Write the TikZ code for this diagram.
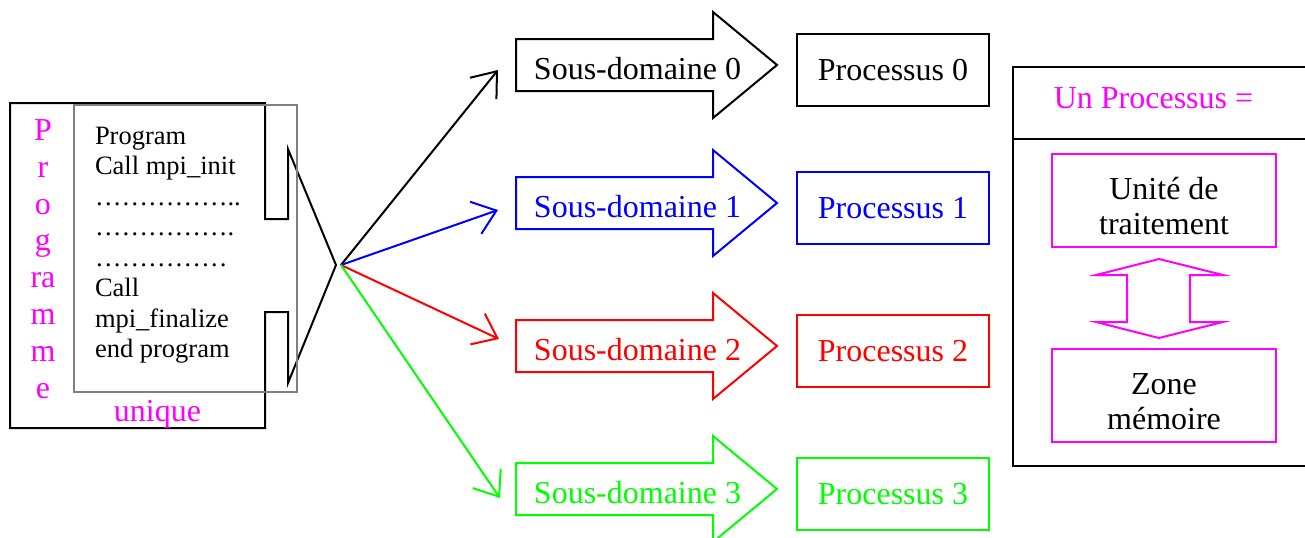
\documentclass[tikz,border=0pt]{standalone}
\usepackage{fontspec}
\setmainfont{Liberation Serif}
\usetikzlibrary{arrows.meta}
\definecolor{magn}{RGB}{255,0,255}

\begin{document}
\begin{tikzpicture}[x=0.5pt, y=-0.5pt, line width=1pt,
    every node/.style={font=\fontsize{16}{18.4}\selectfont},
    spread/.style={-{Straight Barb[length=11pt,width=17pt]}},
    procbox/.style={draw, minimum width=96pt, minimum height=36pt, inner sep=0pt},
    partbox/.style={procbox, magn, text=black, align=center, minimum width=112pt,
        minimum height=46.3pt, font=\fontsize{16}{17.5}\selectfont}]
    \useasboundingbox (0,0) rectangle (1305,537);

    % Program frame and its pointer
    \draw (10,103) -- (265,103) -- (265,219) -- (288,219) -- (288,149) -- (336,265)
        -- (288,383) -- (288,312) -- (265,312) -- (265,428) -- (10,428) -- cycle;
    \draw[gray] (74,105) rectangle (297,392);

    % Program labels
    \node[magn, align=center] (prog) at (43,259) {P\\r\\o\\g\\ra\\m\\m\\e};
    \node[magn] (uniq) at (157.5,414) {unique};
    \node[anchor=base west, align=left, inner sep=0pt, font=\fontsize{13.25}{15.26}\selectfont]
        (code) at (94,357.7)
        {Program\\Call mpi\_init\\……………..\\…………….\\……………\\Call\\mpi\_finalize\\end program};

    % Fan of arrows
    \coordinate (hub) at (341,265);
    \coordinate (to0) at (498,70);
    \coordinate (to1) at (498,210);
    \coordinate (to2) at (499,339);
    \coordinate (to3) at (500,498);
    \draw[spread] (hub) -- (to0);
    \draw[spread, blue] (hub) -- (to1);
    \draw[spread, red] (hub) -- (to2);
    \draw[spread, green] (hub) -- (to3);

    % Sub-domains and processes
    \foreach \i/\c/\col in {0/65/black, 1/203/blue, 2/346/red, 3/489/green} {
        \draw[\col] (516,\c-26) -- (713,\c-26) -- (713,\c-53) -- (777,\c)
            -- (713,\c+53) -- (713,\c+26) -- (516,\c+26) -- cycle;
        \node[\col] (sd\i) at (637.5,\c+4) {Sous-domaine \i};
        \node[procbox, \col] (pr\i) at (893,\c+5) {Processus \i};
    }

    % One process
    \draw (1013,67) rectangle (1320,466);
    \draw (1013,139) -- (1320,139);
    \node[magn] (title) at (1153.5,98) {Un Processus =};
    \node[partbox] (cpu) at (1164,200.5) {\rule{0pt}{17pt}Unité de\\traitement};
    \node[partbox] (mem) at (1164,395.5) {\rule{0pt}{17pt}Zone\\mémoire};
    \draw[magn] (1159,259) -- (1223,275) -- (1190,275) -- (1190,322) -- (1223,322)
        -- (1159,338) -- (1096,322) -- (1127,322) -- (1127,275) -- (1096,275) -- cycle;
\end{tikzpicture}
\end{document}
